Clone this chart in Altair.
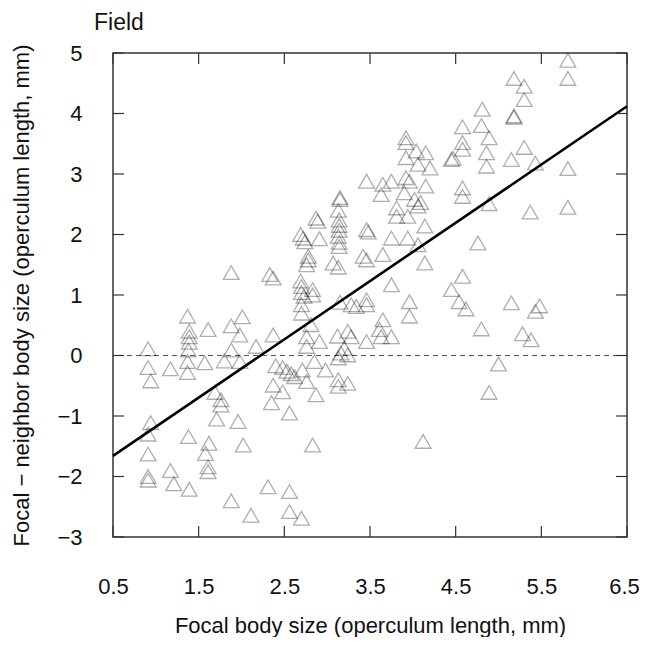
import altair as alt
import pandas as pd

# ---- data ----
focal_x = [
    0.91, 0.91, 0.94, 0.94, 0.91, 0.91, 0.91, 0.91,
    1.17, 1.17, 1.21,
    1.37, 1.39, 1.39, 1.39, 1.38, 1.37, 1.37, 1.38, 1.39,
    1.61, 1.57, 1.62, 1.58, 1.61, 1.61,
    1.69, 1.76, 1.76, 1.71, 1.80,
    1.88, 1.88, 2.01, 1.98, 1.88, 1.98, 1.96, 2.02, 1.88,
    2.17, 2.11,
    2.33, 2.37, 2.37, 2.40, 2.37, 2.35, 2.31,
    2.48, 2.53, 2.58, 2.62, 2.48, 2.56, 2.56, 2.56,
    2.69, 2.72, 2.74, 2.78, 2.78, 2.76, 2.69, 2.70, 2.70, 2.73, 2.83, 2.83, 2.70, 2.70, 2.76, 2.76, 2.71, 2.76, 2.70,
    2.87, 2.89, 2.91, 2.81, 2.91, 2.85, 2.87, 2.83,
    2.98,
    3.07, 3.13, 3.15, 3.15, 3.13, 3.14, 3.14, 3.14, 3.13, 3.14, 3.14,
    3.15, 3.12, 3.16, 3.13, 3.13, 3.13, 3.20,
    3.24, 3.28, 3.28, 3.24, 3.24, 3.34,
    3.46, 3.46, 3.48, 3.42, 3.46, 3.46, 3.46, 3.46,
    3.65, 3.63, 3.65, 3.65, 3.61, 3.63,
    3.75, 3.75, 3.75, 3.75,
    3.81, 3.81, 3.92, 3.92, 3.92, 3.92, 3.96, 3.90, 3.94, 3.94, 3.96, 3.96,
    4.04, 4.15, 4.06, 4.20, 4.15, 4.02, 4.06, 4.09, 4.14, 4.06, 4.14, 4.12,
    4.45, 4.47, 4.58, 4.58, 4.58, 4.58, 4.58, 4.58, 4.45, 4.54, 4.62,
    4.81, 4.80, 4.89, 4.86, 4.86, 4.89, 4.76, 4.80, 4.89, 5.00,
    5.18, 5.30, 5.30, 5.18, 5.18, 5.15, 5.30, 5.43, 5.37, 5.15, 5.48, 5.43, 5.28, 5.38,
    5.81, 5.81, 5.81, 5.81,
]
diff_y = [
    0.11, -0.20, -0.42, -1.11, -1.30, -1.63, -2.00, -2.06,
    -0.22, -1.90, -2.12,
    0.65, 0.40, 0.31, 0.22, 0.09, -0.10, -0.28, -1.34, -2.21,
    0.43, -0.12, -1.45, -1.62, -1.84, -1.92,
    -0.61, -0.73, -0.82, -1.05, -0.09,
    1.37, 0.49, 0.64, 0.34, 0.09, -0.10, -1.09, -1.48, -2.40,
    0.15, -2.64,
    1.34, 1.28, 0.34, -0.17, -0.49, -0.78, -2.17,
    -0.20, -0.26, -0.30, -0.35, -0.60, -0.95, -2.25, -2.58,
    2.00, 1.94, 1.88, 1.64, 1.58, 1.50, 1.23, 1.14, 1.04, 0.98, 1.09, 1.00, 0.84, 0.70, 0.31, 0.15, -0.24, -0.43, -2.69,
    2.27, 2.22, 1.93, 0.51, 0.23, -0.10, -0.65, -1.48,
    -0.24,
    1.53, 1.46, 2.61, 2.58, 2.40, 2.24, 2.15, 2.07, 1.97, 1.87, 1.80,
    0.88, 0.32, 0.04, -0.04, -0.40, -0.51, 0.12,
    0.40, 0.31, 0.84, -0.46, 0.01, 0.81,
    2.88, 2.08, 2.04, 1.64, 1.58, 0.92, 0.84, 0.23,
    2.83, 2.66, 1.67, 0.59, 0.43, 0.31,
    2.88, 1.94, 1.17, 0.31,
    2.44, 2.30, 3.60, 3.52, 3.27, 2.94, 2.88, 2.69, 2.30, 1.94, 0.89, 0.65,
    3.38, 3.35, 3.16, 3.10, 2.80, 2.58, 2.47, 2.53, 2.14, 1.83, 1.53, -1.42,
    3.24, 3.26, 3.78, 3.52, 3.41, 2.77, 2.63, 1.31, 1.09, 0.89, 0.77,
    4.07, 3.80, 3.60, 3.35, 3.13, 2.51, 1.86, 0.44, -0.61, -0.14,
    4.58, 4.45, 4.23, 3.96, 3.94, 3.24, 3.44, 3.18, 2.37, 0.87, 0.82, 0.73, 0.36, 0.26,
    4.88, 4.58, 3.09, 2.45,
]

fit_x = [0.5, 6.5]
fit_y = [-1.66, 4.12]

x_ticks = [0.5, 1.5, 2.5, 3.5, 4.5, 5.5, 6.5]
y_ticks = [-3, -2, -1, 0, 1, 2, 3, 4, 5]

W, H = 514, 484
FONT = "Liberation Sans"

pts = pd.DataFrame({"x": focal_x, "y": diff_y})
fit = pd.DataFrame({"x": fit_x, "y": fit_y})
xt = pd.DataFrame({"v": x_ticks})
yt = pd.DataFrame({"v": y_ticks})

xscale = alt.Scale(domain=[0.5, 6.5], nice=False, zero=False)
yscale = alt.Scale(domain=[-3, 5], nice=False, zero=False)

x_axis = alt.Axis(
    values=x_ticks, format=".1f", ticks=False, domain=False, grid=False,
    labelFlush=False, labelOverlap=False,
    labelOffset={"condition": {"test": "datum.value == 6.5", "value": -3}, "value": 0},
    labelFont=FONT, labelFontSize=22, labelColor="#111", labelPadding=39,
    title="Focal body size (operculum length, mm)", titleFont=FONT,
    titleFontSize=22, titleFontWeight="normal", titleColor="#111", titlePadding=18,
)
y_axis = alt.Axis(
    values=y_ticks, format="d", ticks=False, domain=False, grid=False,
    labelFlush=False, labelOverlap=False,
    labelFont=FONT, labelFontSize=22, labelColor="#111", labelPadding=31,
    title="Focal \u2212 neighbor body size (operculum length, mm)", titleFont=FONT,
    titleFontSize=22, titleFontWeight="normal", titleColor="#111", titlePadding=23,
)

points = alt.Chart(pts).mark_point(
    shape="triangle-up", size=250, filled=False, stroke="black",
    strokeOpacity=0.45, strokeWidth=1.3,
).encode(
    x=alt.X("x:Q", scale=xscale, axis=x_axis),
    y=alt.Y("y:Q", scale=yscale, axis=y_axis),
)

zero = alt.Chart(pts).mark_rule(
    strokeDash=[5, 4], stroke="#555", strokeWidth=1
).encode(y=alt.datum(0, scale=yscale))

fitline = alt.Chart(fit).mark_line(color="black", strokeWidth=2.6).encode(
    x=alt.X("x:Q", scale=xscale), y=alt.Y("y:Q", scale=yscale)
)

TL = 11
xb = alt.Chart(xt).mark_rule(color="#333", strokeWidth=1.2).encode(
    x=alt.X("v:Q", scale=xscale), y=alt.value(H - TL), y2=alt.value(H))
xtop = alt.Chart(xt).mark_rule(color="#333", strokeWidth=1.2).encode(
    x=alt.X("v:Q", scale=xscale), y=alt.value(0), y2=alt.value(TL))
yl = alt.Chart(yt).mark_rule(color="#333", strokeWidth=1.2).encode(
    y=alt.Y("v:Q", scale=yscale), x=alt.value(0), x2=alt.value(TL))
yr = alt.Chart(yt).mark_rule(color="#333", strokeWidth=1.2).encode(
    y=alt.Y("v:Q", scale=yscale), x=alt.value(W - TL), x2=alt.value(W))

chart = alt.layer(zero, points, fitline, xb, xtop, yl, yr).properties(
    width=W, height=H,
    title=alt.TitleParams("Field", anchor="start", frame="group", dx=-19, offset=7,
                          font=FONT, fontSize=23, fontWeight="normal", color="#111"),
    autosize=alt.AutoSizeParams(type="none"),
    padding={"left": 105, "top": 45, "right": 12, "bottom": 100},
).configure_view(stroke="#333", strokeWidth=1.5)

chart.save("out.html", embed_options={"renderer": "svg", "actions": False})
